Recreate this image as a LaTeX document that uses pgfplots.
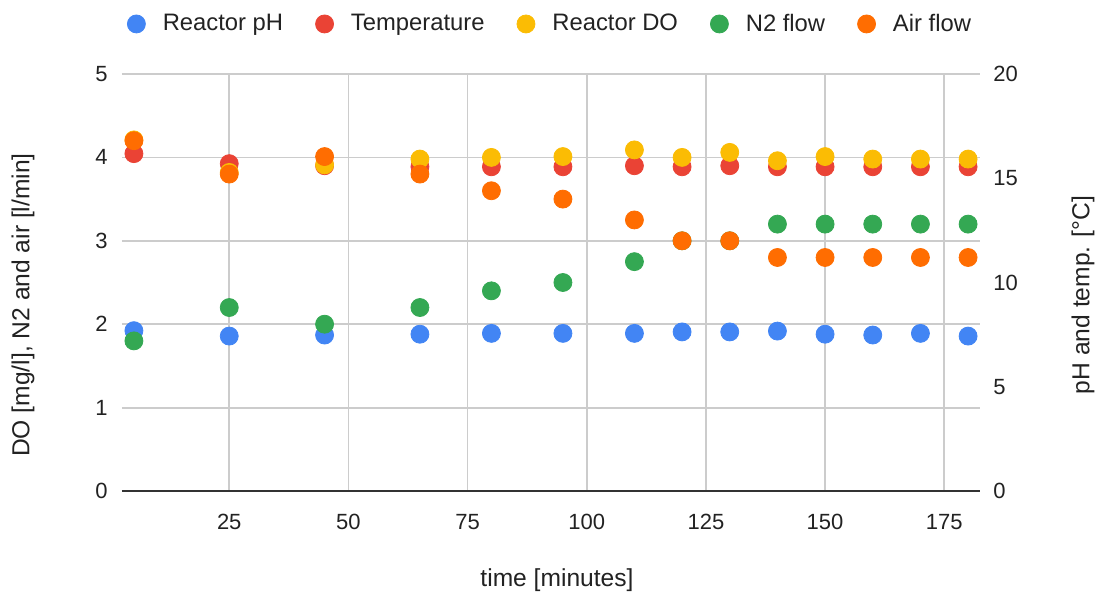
\documentclass[border=0pt]{standalone}
\usepackage{fontspec}
\setmainfont{Liberation Sans}
\usepackage{pgfplots}
\pgfplotsset{compat=1.18}
\definecolor{cpH}{HTML}{4285F4}
\definecolor{cTemp}{HTML}{EA4335}
\definecolor{cDO}{HTML}{FBBC04}
\definecolor{cN}{HTML}{34A853}
\definecolor{cAir}{HTML}{FF6D01}
\definecolor{gridc}{HTML}{CCCCCC}
\definecolor{axisc}{HTML}{333333}
\definecolor{textc}{HTML}{222222}
\begin{document}
\begin{tikzpicture}
\useasboundingbox (-61pt,-51.5pt) rectangle (487.5pt,245.5pt);
\pgfplotsset{
  common/.style={width=429pt, height=208.5pt, scale only axis, at={(0,0)}, anchor=south west,
    xmin=2.5, xmax=182.5,
    /pgf/number format/assume math mode=true,
    tick style={draw=none}, major tick length=0pt,
    ticklabel style={font=\fontsize{11}{13}\selectfont, text=textc},
    label style={font=\fontsize{12.3}{14}\selectfont, text=textc},
    every axis plot/.append style={only marks, mark=*, mark size=4.5pt},
  },
}
% axis 1: grid, left axis, x axis, legend
\begin{axis}[common,
  ymin=0, ymax=5, ytick={0,1,2,3,4,5},
  xtick={25,50,75,100,125,150,175},
  grid=major, grid style={color=gridc, line width=0.9pt},
  axis line style={draw=none},
  extra y ticks={0}, extra y tick labels={},
  extra y tick style={major grid style={color=axisc, line width=1pt}},
  xticklabel style={anchor=north, inner sep=0pt, yshift=-11.5pt},
  yticklabel style={anchor=east, inner sep=0pt, xshift=-7pt},
  xlabel={time [minutes]},
  xlabel style={at={(axis description cs:0.507,-0.2134)}, anchor=center},
  ylabel={DO [mg/l], N2 and air [l/min]},
  ylabel style={at={(axis description cs:-0.1154,0.446)}, anchor=center},
  legend style={draw=none, fill=none, legend columns=-1,
    at={(axis description cs:0.5,1.12)}, anchor=center,
    font=\fontsize{11.9}{14}\selectfont, text=textc,
    /tikz/every odd column/.append style={column sep=6.5pt},
    /tikz/every even column/.append style={column sep=14pt}},
]
\addlegendimage{legend image code/.code={\fill[cpH] (0pt,0pt) circle (4.5pt);}}
\addlegendentry{Reactor pH}
\addlegendimage{legend image code/.code={\fill[cTemp] (0pt,0pt) circle (4.5pt);}}
\addlegendentry{Temperature}
\addlegendimage{legend image code/.code={\fill[cDO] (0pt,0pt) circle (4.5pt);}}
\addlegendentry{Reactor DO}
\addlegendimage{legend image code/.code={\fill[cN] (0pt,0pt) circle (4.5pt);}}
\addlegendentry{N2 flow}
\addlegendimage{legend image code/.code={\fill[cAir] (0pt,0pt) circle (4.5pt);}}
\addlegendentry{Air flow}
\end{axis}
% axis 2: right scale (pH, temperature)
\begin{axis}[common,
  ymin=0, ymax=20, ytick={0,5,10,15,20},
  axis x line=none, axis y line*=right,
  y axis line style={draw=none},
  xtick=\empty,
  yticklabel style={anchor=west, inner sep=0pt, xshift=6.5pt},
  ylabel={pH and temp. [°C]},
  ylabel style={at={(axis description cs:1.12,0.47)}, anchor=center},
]
\addplot[cpH] coordinates {(5,7.69) (25,7.43) (45,7.48) (65,7.52) (80,7.56) (95,7.56) (110,7.56) (120,7.63) (130,7.63) (140,7.67) (150,7.52) (160,7.48) (170,7.56) (180,7.43)};
\addplot[cTemp] coordinates {(5,16.18) (25,15.7) (45,15.6) (65,15.55) (80,15.55) (95,15.55) (110,15.6) (120,15.55) (130,15.6) (140,15.55) (150,15.55) (160,15.55) (170,15.55) (180,15.55)};
\end{axis}
% axis 3: left scale series
\begin{axis}[common, ymin=0, ymax=5, hide axis]
\addplot[cDO] coordinates {(5,4.21) (25,3.82) (45,3.91) (65,3.98) (80,4.0) (95,4.01) (110,4.09) (120,4.0) (130,4.06) (140,3.96) (150,4.01) (160,3.98) (170,3.98) (180,3.98)};
\addplot[cN] coordinates {(5,1.80) (25,2.20) (45,2.00) (65,2.20) (80,2.40) (95,2.50) (110,2.75) (120,3.0) (130,3.0) (140,3.2) (150,3.2) (160,3.2) (170,3.2) (180,3.2)};
\addplot[cAir] coordinates {(5,4.20) (25,3.80) (45,4.01) (65,3.80) (80,3.60) (95,3.50) (110,3.25) (120,3.0) (130,3.0) (140,2.8) (150,2.8) (160,2.8) (170,2.8) (180,2.8)};
\end{axis}
\end{tikzpicture}
\end{document}
